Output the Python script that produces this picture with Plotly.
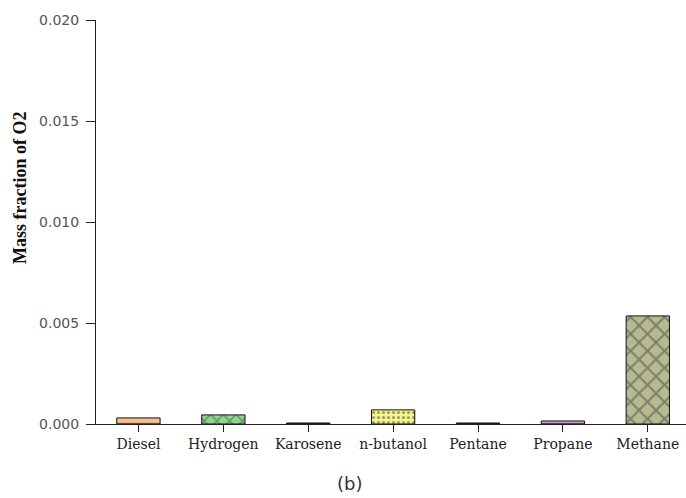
import plotly.graph_objects as go

# Mass fraction of O2 for each fuel
fuels = ["Diesel", "Hydrogen", "Karosene", "n-butanol", "Pentane", "Propane", "Methane"]
o2_fraction = [0.0003, 0.00045, 0.00005, 0.0007, 0.00005, 0.00015, 0.00535]

fill_colors = ["#f7c08f", "#8fd68a", "#333333", "#f6f48a", "#333333", "#d9a3d9", "#b7ba90"]
patterns = ["-", "x", "", ".", "", "-", "x"]
pattern_sizes = [8, 9, 8, 5, 8, 8, 12]

fig = go.Figure()
fig.add_trace(go.Bar(
    x=fuels,
    y=o2_fraction,
    width=0.51,
    marker=dict(
        color=fill_colors,
        line=dict(color="#111111", width=1),
        pattern=dict(shape=patterns, fgcolor="#111111", size=pattern_sizes, solidity=0.3),
    ),
))

fig.update_layout(
    width=686, height=498,
    margin=dict(l=96, r=0, t=20, b=74),
    paper_bgcolor="white", plot_bgcolor="white",
    showlegend=False,
    xaxis=dict(
        range=[-0.5, 6.45],
        showline=True, linecolor="#222222", linewidth=1,
        ticks="outside", ticklen=7, tickcolor="#222222",
        tickfont=dict(family="DejaVu Serif", size=14, color="#222222"),
        showgrid=False, zeroline=False,
    ),
    yaxis=dict(
        range=[0, 0.020],
        tickvals=[0, 0.005, 0.010, 0.015, 0.020],
        ticktext=["0.000", "0.005", "0.010", "0.015", "0.020"],
        showline=True, linecolor="#222222", linewidth=1,
        ticks="outside", ticklen=9, tickcolor="#222222",
        ticklabelstandoff=4,
        tickfont=dict(family="DejaVu Sans", size=14, color="#555555"),
        showgrid=False, zeroline=False,
    ),
    annotations=[
        dict(
            text="<b>Mass fraction of O2</b>", textangle=-90,
            x=(20 - 96) / 590, y=(424 - 188) / 404, xref="paper", yref="paper",
            xanchor="center", yanchor="middle", showarrow=False,
            font=dict(family="Liberation Serif", size=18, color="#111111"),
        ),
        dict(
            text="(b)", x=(349 - 96) / 590, y=0, xref="paper", yref="paper",
            xanchor="center", yanchor="middle", yshift=-59, showarrow=False,
            font=dict(family="DejaVu Sans", size=18, color="#333333"),
        ),
    ],
)

fig.write_html("out.html")
